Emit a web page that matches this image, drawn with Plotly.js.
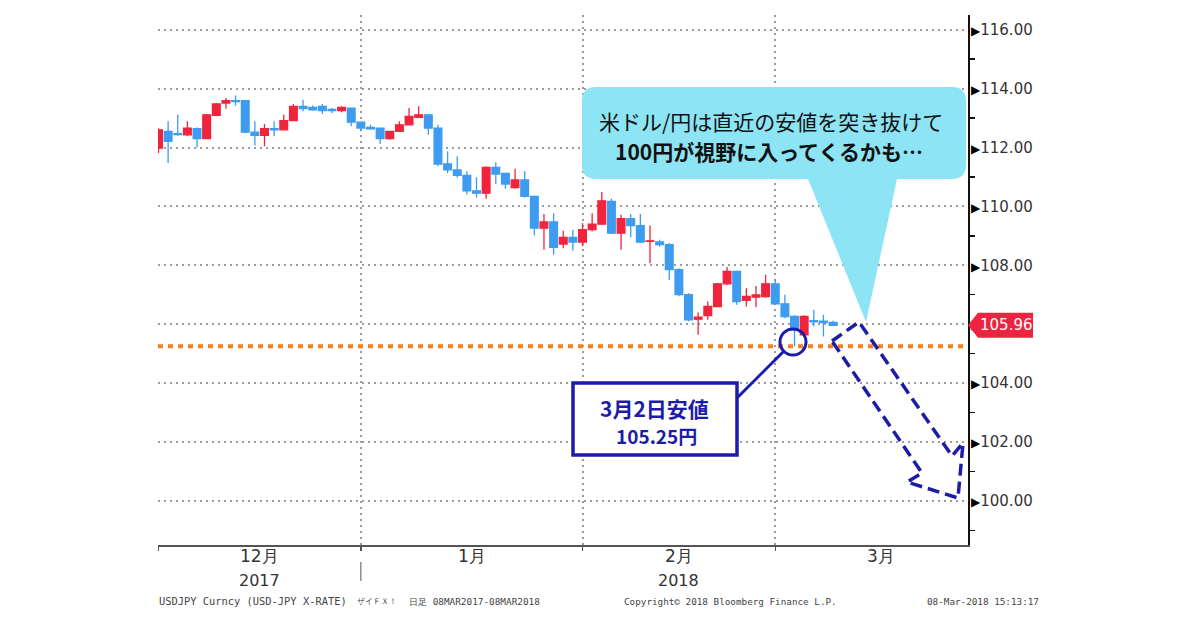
<!DOCTYPE html>
<html><head><meta charset="utf-8">
<script src="https://cdn.plot.ly/plotly-3.0.1.min.js"></script>
<style>html,body{margin:0;padding:0;background:#fff;}#chart{width:1200px;height:630px;}</style>
</head><body><div id="chart"></div>
<script>
// ---------------- data (USD/JPY daily) ----------------
const dates = ["2017-11-30","2017-12-01","2017-12-04","2017-12-05","2017-12-06","2017-12-07","2017-12-08",
 "2017-12-11","2017-12-12","2017-12-13","2017-12-14","2017-12-15","2017-12-18","2017-12-19","2017-12-20",
 "2017-12-21","2017-12-22","2017-12-25","2017-12-26","2017-12-27","2017-12-28","2017-12-29",
 "2018-01-01","2018-01-02","2018-01-03","2018-01-04","2018-01-05","2018-01-08","2018-01-09","2018-01-10",
 "2018-01-11","2018-01-12","2018-01-15","2018-01-16","2018-01-17","2018-01-18","2018-01-19","2018-01-22",
 "2018-01-23","2018-01-24","2018-01-25","2018-01-26","2018-01-29","2018-01-30","2018-01-31",
 "2018-02-01","2018-02-02","2018-02-05","2018-02-06","2018-02-07","2018-02-08","2018-02-09","2018-02-12",
 "2018-02-13","2018-02-14","2018-02-15","2018-02-16","2018-02-19","2018-02-20","2018-02-21","2018-02-22",
 "2018-02-23","2018-02-26","2018-02-27","2018-02-28","2018-03-01","2018-03-02","2018-03-05","2018-03-06",
 "2018-03-07","2018-03-08"];
const openVals = [111.98,112.55,112.47,112.43,112.64,112.30,113.09,113.51,113.59,113.59,112.52,112.41,112.64,112.60,112.91,
 113.40,113.36,113.40,113.29,113.25,113.34,112.86,
 112.68,112.66,112.30,112.55,112.77,113.02,113.11,112.66,111.44,111.24,111.05,110.53,110.45,111.32,111.12,110.64,
 110.90,110.34,109.26,109.47,108.72,108.95,108.79,
 109.21,109.40,110.17,109.09,109.58,109.35,108.81,108.79,108.70,107.85,107.00,106.17,106.29,106.60,107.37,107.79,
 106.81,106.92,106.94,107.37,106.69,106.26,105.64,106.12,106.10,106.06];
const highVals = [112.65,112.89,113.12,112.89,112.68,113.14,113.51,113.68,113.77,113.61,112.89,112.80,112.89,113.11,113.48,
 113.62,113.43,113.48,113.34,113.40,113.36,112.89,
 112.77,112.68,112.57,112.89,113.34,113.40,113.13,112.77,111.87,111.70,111.19,110.99,111.36,111.50,111.15,111.28,
 111.19,110.37,109.74,109.77,109.17,109.21,109.43,
 109.77,110.49,110.26,109.72,109.74,109.74,109.35,108.87,108.76,107.90,107.05,106.40,106.77,107.40,107.94,107.82,
 107.22,107.30,107.68,107.53,107.00,106.30,106.30,106.49,106.32,106.12];
const lowVals = [111.81,111.47,112.40,112.38,112.00,112.28,113.06,113.32,113.43,112.49,112.07,112.04,112.38,112.58,112.89,
 113.23,113.25,113.14,113.17,113.20,112.72,112.55,
 112.60,112.12,112.26,112.53,112.75,113.00,112.43,111.36,111.13,110.98,110.40,110.30,110.26,110.76,110.60,110.60,
 110.30,109.01,108.53,108.36,108.58,108.49,108.65,
 109.15,109.37,109.06,108.53,108.95,108.75,108.07,108.63,107.50,106.95,106.10,105.64,106.15,106.58,107.33,106.66,
 106.60,106.58,106.90,106.65,106.20,105.25,105.58,105.92,105.58,105.94];
const closeVals = [112.60,112.21,112.44,112.66,112.30,113.11,113.48,113.59,113.56,112.52,112.41,112.64,112.60,112.91,113.40,
 113.32,113.28,113.25,113.25,113.36,112.86,112.66,
 112.63,112.30,112.55,112.77,113.06,113.11,112.66,111.44,111.24,111.05,110.53,110.45,111.32,111.10,110.76,110.90,
 110.34,109.26,109.47,108.61,108.95,108.79,109.21,
 109.40,110.19,109.09,109.58,109.35,108.79,108.83,108.70,107.85,107.00,106.15,106.24,106.60,107.37,107.79,106.77,
 106.94,106.99,107.37,106.69,106.26,105.81,106.26,106.08,106.05,105.96];

const monthGridDates = ["2017-11-30","2017-12-29","2018-01-31","2018-02-28"];
const monthLabels = ["12月","1月","2月","3月"];
const yearLabels = ["2017","","2018",""];
const yTickVals = [100,102,104,106,108,110,112,114,116];
const yTickLabels = ["100.00","102.00","104.00","106.00","108.00","110.00","112.00","114.00","116.00"];
const lastPrice = 105.96;
const recentLow = 105.25;
const lowLabelLines = ["3月2日安値","105.25円"];
const calloutLines = ["米ドル/円は直近の安値を突き抜けて","100円が視野に入ってくるかも…"];
const footerSource = "USDJPY Curncy (USD-JPY X-RATE)";
const footerBrand = "ザイＦＸ！";
const footerPeriod = "日足 08MAR2017-08MAR2018";
const footerCopyright = "Copyright© 2018 Bloomberg Finance L.P.";
const footerStamp = "08-Mar-2018 15:13:17";

// ---------------- helpers ----------------
function weekdays(start, end){
  const out=[]; let d=new Date(start+"T00:00:00Z"); const e=new Date(end+"T00:00:00Z");
  while(d<=e){ const w=d.getUTCDay(); if(w!==0&&w!==6) out.push(d.toISOString().slice(0,10)); d=new Date(d.getTime()+86400000); }
  return out;
}
const calendar = weekdays("2017-11-30","2018-03-30");
const gridIdx = monthGridDates.map(d=>calendar.indexOf(d)).concat([calendar.length-1]);
const monthMid = monthLabels.map((_,k)=>(gridIdx[k]+gridIdx[k+1])/2);

const X0=158, X1=968, Y0=15, Y1=545;
const fx = px => (px-X0)/(X1-X0);
const fy = py => (Y1-py)/(Y1-Y0);
const P = (x,y)=>fx(x).toFixed(5)+','+fy(y).toFixed(5);
const BLUE='#1c1ca8', CYAN='#8ce4f4';

function calloutPath(){
  const x0=582,x1=966,y0=87,y1=179,r=14;
  return 'M'+P(x0+r,y0)+' L'+P(x1-r,y0)+' Q'+P(x1,y0)+' '+P(x1,y0+r)+' L'+P(x1,y1-r)+' Q'+P(x1,y1)+' '+P(x1-r,y1)+
    ' L'+P(897,y1)+' L'+P(866,322)+' L'+P(808,y1)+' L'+P(x0+r,y1)+' Q'+P(x0,y1)+' '+P(x0,y1-r)+
    ' L'+P(x0,y0+r)+' Q'+P(x0,y0)+' '+P(x0+r,y0)+' Z';
}
function polyPath(pts){ return 'M'+pts.map(p=>P(p[0],p[1])).join(' L')+' Z'; }
const halfH = 12.5*(116.5-98.5)/(Y1-Y0);
const priceTagPath = 'M1,'+lastPrice+' L'+fx(978)+','+(lastPrice+halfH)+' L'+fx(1033)+','+(lastPrice+halfH)+
  ' L'+fx(1033)+','+(lastPrice-halfH)+' L'+fx(978)+','+(lastPrice-halfH)+' Z';

// ---------------- trace ----------------
const trace = {
  type:'candlestick', x:dates, open:openVals, high:highVals, low:lowVals, close:closeVals,
  increasing:{line:{color:'#f0243c',width:1.3},fillcolor:'#f0243c'},
  decreasing:{line:{color:'#3d9cf0',width:1.3},fillcolor:'#3d9cf0'},
  whiskerwidth:0, hoverinfo:'skip', showlegend:false
};

const annotations = [];
monthLabels.forEach((m,k)=>{
  annotations.push({xref:'x',yref:'paper',x:monthMid[k],y:fy(556),text:m,showarrow:false,
    font:{family:'DejaVu Sans',size:17,color:'#333'},xanchor:'center',yanchor:'middle'});
  if(yearLabels[k]) annotations.push({xref:'x',yref:'paper',x:monthMid[k],y:fy(580),text:yearLabels[k],showarrow:false,
    font:{family:'DejaVu Sans',size:16,color:'#333'},xanchor:'center',yanchor:'middle'});
});
annotations.push(
  {xref:'paper',yref:'paper',x:fx(771),y:fy(121),text:calloutLines[0],showarrow:false,
   font:{family:'Noto Sans CJK JP',size:21,color:'#111'},xanchor:'center',yanchor:'middle'},
  {xref:'paper',yref:'paper',x:fx(769),y:fy(151),text:'<b>'+calloutLines[1]+'</b>',showarrow:false,
   font:{family:'Noto Sans CJK JP',size:21,color:'#111'},xanchor:'center',yanchor:'middle'},
  {xref:'paper',yref:'paper',x:fx(654),y:fy(408),text:'<b>'+lowLabelLines[0]+'</b>',showarrow:false,
   font:{family:'Noto Sans CJK JP',size:21,color:BLUE},xanchor:'center',yanchor:'middle'},
  {xref:'paper',yref:'paper',x:fx(656),y:fy(436),text:'<b>'+lowLabelLines[1]+'</b>',showarrow:false,
   font:{family:'Noto Sans CJK JP',size:19,color:BLUE},xanchor:'center',yanchor:'middle'},
  {xref:'paper',yref:'y',x:fx(1006),y:lastPrice,text:lastPrice.toFixed(2),showarrow:false,
   font:{family:'DejaVu Sans',size:15,color:'#fff'},xanchor:'center',yanchor:'middle'},
  {xref:'paper',yref:'paper',x:fx(157),y:fy(601),text:footerSource,showarrow:false,
   font:{family:'DejaVu Sans Mono',size:10.4,color:'#444'},xanchor:'left',yanchor:'middle'},
  {xref:'paper',yref:'paper',x:fx(355),y:fy(601),text:footerBrand,showarrow:false,
   font:{family:'DejaVu Sans Mono',size:8,color:'#444'},xanchor:'left',yanchor:'middle'},
  {xref:'paper',yref:'paper',x:fx(407),y:fy(601),text:footerPeriod,showarrow:false,
   font:{family:'DejaVu Sans Mono',size:9.4,color:'#444'},xanchor:'left',yanchor:'middle'},
  {xref:'paper',yref:'paper',x:fx(622),y:fy(601),text:footerCopyright,showarrow:false,
   font:{family:'DejaVu Sans Mono',size:9.3,color:'#444'},xanchor:'left',yanchor:'middle'},
  {xref:'paper',yref:'paper',x:fx(925),y:fy(601),text:footerStamp,showarrow:false,
   font:{family:'DejaVu Sans Mono',size:9.3,color:'#444'},xanchor:'left',yanchor:'middle'}
);

const shapes = [
  {type:'line',xref:'paper',yref:'y',x0:0,x1:1,y0:recentLow,y1:recentLow,line:{color:'#f5821f',width:4,dash:'5px,5px'}},
  {type:'path',xref:'paper',yref:'paper',path:calloutPath(),fillcolor:CYAN,line:{width:0}},
  {type:'rect',xref:'paper',yref:'paper',x0:fx(573),x1:fx(737),y0:fy(455),y1:fy(383),fillcolor:'#fff',line:{color:BLUE,width:3.5}},
  {type:'line',xref:'paper',yref:'paper',x0:fx(737),y0:fy(398),x1:fx(784),y1:fy(351),line:{color:BLUE,width:3}},
  {type:'circle',xref:'paper',yref:'paper',x0:fx(780),x1:fx(806),y0:fy(355),y1:fy(329),line:{color:BLUE,width:3}},
  {type:'path',xref:'paper',yref:'paper',path:polyPath([[832,341],[859,322],[952,456],[963,443],[958,498],[907,482],[922,473]]),
   line:{color:BLUE,width:3.5,dash:'12px,6px'}},
  {type:'path',xref:'paper',yref:'y',path:priceTagPath,fillcolor:'#ec2440',line:{width:0}},
  {type:'line',xref:'x',yref:'paper',x0:gridIdx[1],x1:gridIdx[1],y0:fy(562),y1:fy(581),line:{color:'#555',width:1}}
];

const layout = {
  width:1200, height:630, autosize:false,
  margin:{l:X0, r:1200-X1, t:Y0, b:630-Y1, pad:0},
  paper_bgcolor:'#fff', plot_bgcolor:'#fff',
  font:{family:'DejaVu Sans',color:'#333'},
  showlegend:false, boxgap:0.2, boxgroupgap:0,
  xaxis:{type:'category', categoryorder:'array', categoryarray:calendar, range:[-0.05, calendar.indexOf("2018-03-28")],
    rangeslider:{visible:false}, tickmode:'array', tickvals:monthGridDates, showticklabels:false,
    showgrid:true, gridcolor:'#9c9c9c', gridwidth:2, griddash:'2px,4px',
    ticks:'outside', ticklen:4, tickcolor:'#555', tickwidth:1.5,
    showline:true, linecolor:'#555', linewidth:2, zeroline:false, fixedrange:true},
  yaxis:{side:'right', range:[98.5,116.5], tickmode:'array', tickvals:yTickVals,
    ticktext:yTickLabels.map(t=>'<span style="font-size:12px;color:#000">▶</span>'+t),
    tickfont:{family:'DejaVu Sans',size:15,color:'#333'}, ticks:'', ticklabelstandoff:-2,
    minor:{tickmode:'linear',tick0:99,dtick:2,ticks:'outside',ticklen:5,tickcolor:'#111',tickwidth:1.5,showgrid:false},
    showgrid:true, gridcolor:'#9c9c9c', gridwidth:2, griddash:'2px,4px',
    showline:true, linecolor:'#111', linewidth:2, zeroline:false, fixedrange:true},
  shapes:shapes, annotations:annotations
};

Plotly.newPlot('chart',[trace],layout,{staticPlot:true,displayModeBar:false});
</script>
</body></html>
